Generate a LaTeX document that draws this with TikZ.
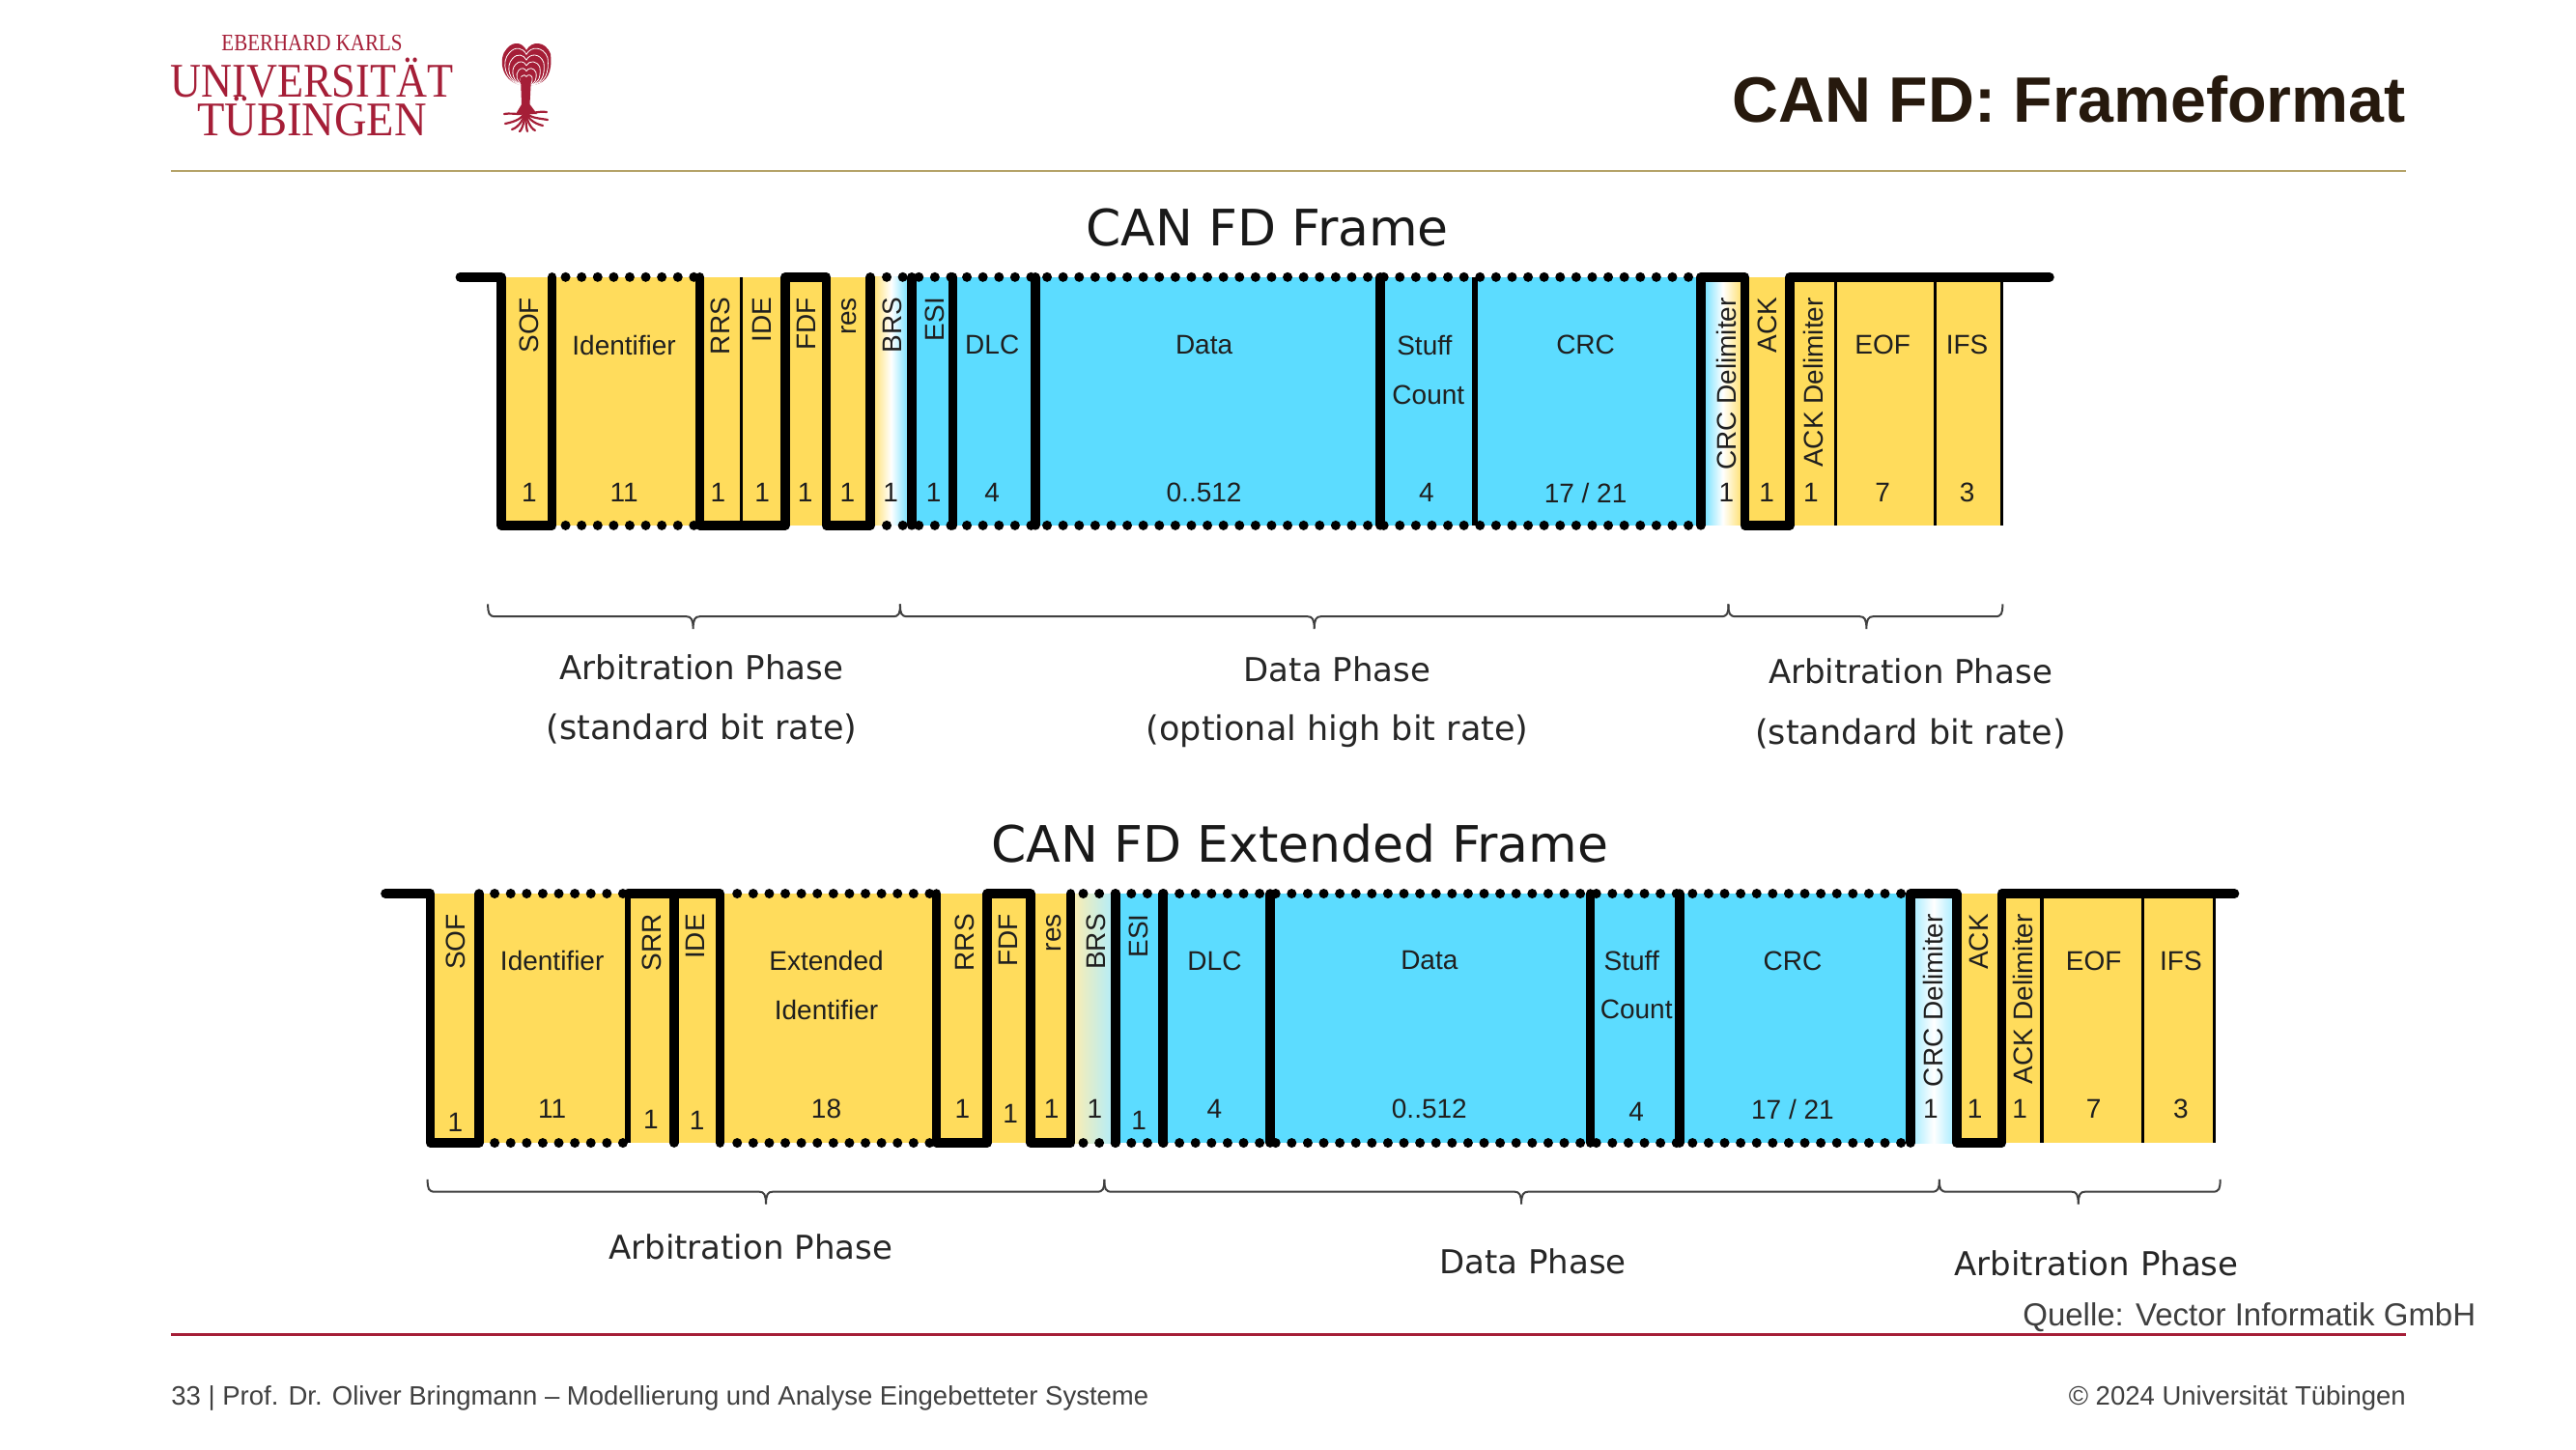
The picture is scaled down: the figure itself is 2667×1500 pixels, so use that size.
\documentclass[tikz,border=0pt]{standalone}
\usepackage{fontspec}
\usepackage{graphicx}
\setmainfont{Liberation Sans}
\newfontfamily\seriffam{Liberation Serif}
\newfontfamily\dejavu{DejaVu Sans}
\definecolor{fyellow}{HTML}{FFDC5C}
\definecolor{fblue}{HTML}{5CDCFF}
\definecolor{unired}{HTML}{A51E37}
\definecolor{unigold}{HTML}{B5A369}
\definecolor{footgray}{HTML}{404040}
\tikzset{
  x=0.5pt,y=-0.5pt,
  fieldtxt/.style={inner sep=0pt,font=\fontsize{14}{16}\selectfont,text=black!88},
  rottxt/.style={fieldtxt,rotate=90,anchor=east},
  sig/.style={line width=4.8pt,line join=round,line cap=round,draw=black},
  sigthin/.style={line width=1.6pt,draw=black},
  sigmid/.style={line width=3pt,draw=black},
  dotsig/.style={line width=5pt,line cap=round,dash pattern=on 0pt off 8.3pt,draw=black},
  phase/.style={inner sep=0pt,font=\dejavu\fontsize{17}{19}\selectfont,text=black!85},
  phasep/.style={inner sep=0pt,font=\dejavu\fontsize{17.5}{19}\selectfont,text=black!85},
  ftitle/.style={inner sep=0pt,font=\dejavu\fontsize{26}{30}\selectfont,text=black!90},
  brace/.style={line width=1pt,draw=black!75},
  foot/.style={inner sep=0pt,font=\fontsize{13.75}{16}\selectfont,text=footgray},
  logotxt/.style={inner sep=0pt,text=unired},
  treeline/.style={draw=white,line width=0.4pt},
  rootline/.style={draw=unired,line width=1.1pt,line cap=round},
  coords/.style={x=0.49625pt,y=-0.49625pt},
}
% #1 x-left #2 x-mid #3 x-right #4 y-line
\newcommand{\mybrace}[4]{%
  \draw[brace] (#1,#4-13) .. controls (#1,#4-3) and (#1+1,#4) .. (#1+8,#4)
     -- (#2-7,#4) .. controls (#2-2,#4) and (#2,#4+3) .. (#2,#4+13)
     .. controls (#2,#4+3) and (#2+2,#4) .. (#2+7,#4)
     -- (#3-8,#4) .. controls (#3-1,#4) and (#3,#4-3) .. (#3,#4-13);}
\newcommand{\crownpath}{(-6,0) .. controls (-26,-4) and (-30,-28) .. (-20,-38)
      .. controls (-13,-46) and (-4,-44) .. (0,-36)
      .. controls (5,-46) and (20,-46) .. (25,-32)
      .. controls (27,-14) and (22,-2) .. (7,0)}
\begin{document}
\begin{tikzpicture}
\useasboundingbox (0,0) rectangle (2667,1500);
\fill[white] (0,0) rectangle (2667,1500);

% ---------- header
\node[logotxt,anchor=center] (logoa) at (323,45) {\seriffam\fontsize{12.2}{13}\selectfont\scalebox{.86}[1]{EBERHARD KARLS}};
\node[logotxt,anchor=center] (logob) at (323,81) {\seriffam\fontsize{25}{28}\selectfont\scalebox{.885}[1]{UNIVERSITÄT}};
\node[logotxt,anchor=center] (logoc) at (323,120) {\seriffam\fontsize{25}{28}\selectfont\scalebox{.93}[1]{TÜBINGEN}};
% tree
\begin{scope}[shift={(545,88)}]
  \fill[unired] \crownpath -- cycle;
  \foreach \s in {.88,.72,.56,.4,.24}{
    \begin{scope}[scale=\s]
      \draw[treeline] \crownpath;
    \end{scope}
  }
  \foreach \a in {-62,-40,-18,18,40,62}{
    \draw[treeline,dash pattern=on 2pt off 1pt] (0,0) -- ++(90+\a:42);
  }
\end{scope}
\fill[unired] (539,80) -- (550,80) -- (548.5,108) -- (556,118) -- (534,118) -- (540,108) -- cycle;
\foreach \ex/\ey in {522/118,523/128,530/134,538/136,546/136,554/135,562/130,567/124,566/116}{
  \draw[rootline] (544,112) .. controls (544,122) and ({(544+\ex)/2},{\ey-2}) .. (\ex,\ey);
}

\begin{scope}[coords]
\node[anchor=east,inner sep=0pt,font=\bfseries\fontsize{33.2}{38}\selectfont,text={black!80!brown}] (htitle) at (2510,104) {CAN FD: Frameformat};
\coordinate (gl) at (178.3,178); \coordinate (gr) at (2510,178);
\draw[unigold,line width=1pt] (gl) -- (gr);

% ---------- titles
\node[ftitle] (t1) at (1322,237) {CAN FD Frame};
\node[ftitle] (t2) at (1356,880) {CAN FD Extended Frame};

% ---------- frame 1 fills
\def\ta{289}\def\ba{548}
\fill[fyellow] (523,\ta) rectangle (908,\ba);
\shade[left color=fyellow,right color=fblue,middle color=white] (908,\ta) rectangle (951,\ba);
\fill[fblue] (951,\ta) rectangle (1774,\ba);
\shade[left color=fblue,right color=fyellow,middle color=white] (1774,\ta) rectangle (1820,\ba);
\fill[fyellow] (1820,\ta) rectangle (2088,\ba);
% frame 1 signal
\draw[dotsig] (590,\ta) -- (730,\ta);
\draw[dotsig] (590,\ba) -- (730,\ba);
\draw[dotsig] (925,\ta) -- (1774,\ta);
\draw[dotsig] (925,\ba) -- (1774,\ba);
\draw[sig] (480,\ta) -- (523,\ta) -- (523,\ba) -- (576,\ba) -- (576,\ta);
\draw[sig] (730,\ta) -- (730,\ba) -- (819,\ba) -- (819,\ta) -- (862,\ta) -- (862,\ba) -- (908,\ba) -- (908,\ta);
\foreach \x in {951,994,1080,1440}{\draw[sig] (\x,\ta) -- (\x,\ba);}
\draw[sigmid] (1539,\ta) -- (1539,\ba);
\draw[sig] (1774,\ba) -- (1774,\ta) -- (1820,\ta) -- (1820,\ba) -- (1867,\ba) -- (1867,\ta) -- (2138,\ta);
\foreach \x in {773,1915,2019,2088}{\draw[sigthin] (\x,\ta) -- (\x,\ba);}
% frame 1 labels
\foreach \n/\x/\t in {a/552/SOF,b/751/RRS,c/795/IDE,d/841/FDF,e/886/res,f/931/BRS,g/975/ESI,h/1801/CRC Delimiter,i/1844/ACK,j/1892/ACK Delimiter}{
  \node[rottxt] (ra\n) at (\x,310) {\t};
}
\foreach \n/\x/\t in {a/651/Identifier,b/1035/DLC,c/1256/Data,d/1486/Stuff,e/1654/CRC,f/1964/EOF,g/2052/IFS}{
  \node[fieldtxt] (la\n) at (\x,360) {\t};
}
\node[fieldtxt] (lacount) at (1490,412) {Count};
\foreach \n/\x/\t in {a/552/1,b/651/11,c/749/1,d/795/1,e/840/1,f/884/1,g/929/1,h/974/1,i/1035/4,j/1256/0..512,k/1488/4,l/1654/{17 / 21},m/1801/1,n/1843/1,o/1889/1,p/1964/7,q/2052/3}{
  \node[fieldtxt] (na\n) at (\x,514) {\t};
}
% frame 1 braces
\mybrace{509}{723}{939}{643}
\mybrace{939}{1371}{1803}{643}
\mybrace{1803}{1947}{2089}{643}
\node[phase] (pa1) at (732,696) {Arbitration Phase};
\node[phasep] (pa2) at (732,760) {(standard bit rate)};
\node[phase] (pb1) at (1395,698) {Data Phase};
\node[phasep] (pb2) at (1395,763) {(optional high bit rate)};
\node[phase] (pc1) at (1993,700) {Arbitration Phase};
\node[phasep] (pc2) at (1993,765) {(standard bit rate)};

% ---------- frame 2 fills
\def\tb{932}\def\bb{1192}
\fill[fyellow] (449,\tb) rectangle (1117,\bb);
\shade[left color=fyellow!50!white,right color=fblue!50!white] (1117,\tb) rectangle (1164,\bb);
\fill[fblue] (1164,\tb) rectangle (1993,\bb);
\shade[left color=fblue!60!white,right color=fblue!60!white,middle color=white] (1993,\tb) rectangle (2041,\bb);
\fill[fyellow] (2041,\tb) rectangle (2310,\bb);
% frame 2 signal
\draw[dotsig] (516,\tb) -- (650,\tb);
\draw[dotsig] (516,\bb) -- (650,\bb);
\draw[dotsig] (769,\tb) -- (977,\tb);
\draw[dotsig] (769,\bb) -- (977,\bb);
\draw[dotsig] (1130,\tb) -- (1993,\tb);
\draw[dotsig] (1130,\bb) -- (1993,\bb);
\draw[sig] (402,\tb) -- (449,\tb) -- (449,\bb) -- (500,\bb) -- (500,\tb);
\draw[sigmid] (655,\tb) -- (655,\bb);
\draw[sig] (655,\tb) -- (751,\tb) -- (751,\bb);
\draw[sig] (703,\tb) -- (703,\bb);
\draw[sig] (977,\tb) -- (977,\bb) -- (1030,\bb) -- (1030,\tb) -- (1075,\tb) -- (1075,\bb) -- (1117,\bb) -- (1117,\tb);
\foreach \x in {1164,1213,1325,1659,1752}{\draw[sig] (\x,\tb) -- (\x,\bb);}
\draw[sig] (1993,\bb) -- (1993,\tb) -- (2041,\tb) -- (2041,\bb) -- (2088,\bb) -- (2088,\tb) -- (2331,\tb);
\foreach \x in {2130,2235,2310}{\draw[sigthin] (\x,\tb) -- (\x,\bb);}
% frame 2 labels
\foreach \n/\x/\t in {a/475/SOF,b/680/SRR,c/725/IDE,d/1006/RRS,e/1052/FDF,f/1099/res,g/1143/BRS,h/1188/ESI,i/2017/CRC Delimiter,j/2064/ACK,k/2110/ACK Delimiter}{
  \node[rottxt] (rb\n) at (\x,953) {\t};
}
\foreach \n/\x/\t in {a/576/Identifier,b/862/Extended,c/1267/DLC,d/1491/Data,e/1702/Stuff,f/1870/CRC,g/2184/EOF,h/2275/IFS}{
  \node[fieldtxt] (lb\n) at (\x,1002) {\t};
}
\node[fieldtxt] (lbid) at (862,1053) {Identifier};
\node[fieldtxt] (lbcount) at (1707,1053) {Count};
\foreach \n/\x/\t in {b/576/11,e/862/18,f/1004/1,h/1097/1,i/1142/1,k/1267/4,l/1491/0..512,n/1870/{17 / 21},o/2014/1,p/2060/1,q/2107/1,r/2184/7,s/2275/3}{
  \node[fieldtxt] (nb\n) at (\x,1157) {\t};
}
\node[fieldtxt] (nba) at (475,1171) {1};
\node[fieldtxt] (nbc) at (679,1168) {1};
\node[fieldtxt] (nbd) at (727,1169) {1};
\node[fieldtxt] (nbg) at (1054,1162) {1};
\node[fieldtxt] (nbj) at (1188,1169) {1};
\node[fieldtxt] (nbm) at (1707,1160) {4};
% frame 2 braces
\mybrace{446}{799}{1152}{1243}
\mybrace{1152}{1587}{2023}{1243}
\mybrace{2023}{2168}{2316}{1243}
\node[phase] (qa) at (783,1301) {Arbitration Phase};
\node[phase] (qb) at (1599,1316) {Data Phase};
\node[phase] (qc) at (2187,1318) {Arbitration Phase};

% ---------- footer
\node[anchor=east,inner sep=0pt,font=\fontsize{16.5}{20}\selectfont,text=footgray] (src) at (2583,1374) {Quelle: Vector Informatik GmbH};
\coordinate (rl) at (178.3,1392); \coordinate (rr) at (2510,1392);
\draw[unired,line width=1.5pt] (rl) -- (rr);
\node[foot,anchor=west] (fl) at (178.3,1458) {33 | Prof. Dr. Oliver Bringmann – Modellierung und Analyse Eingebetteter Systeme};
\node[foot,anchor=east] (fr) at (2510,1458) {© 2024 Universität Tübingen};
\end{scope}
\end{tikzpicture}
\end{document}
